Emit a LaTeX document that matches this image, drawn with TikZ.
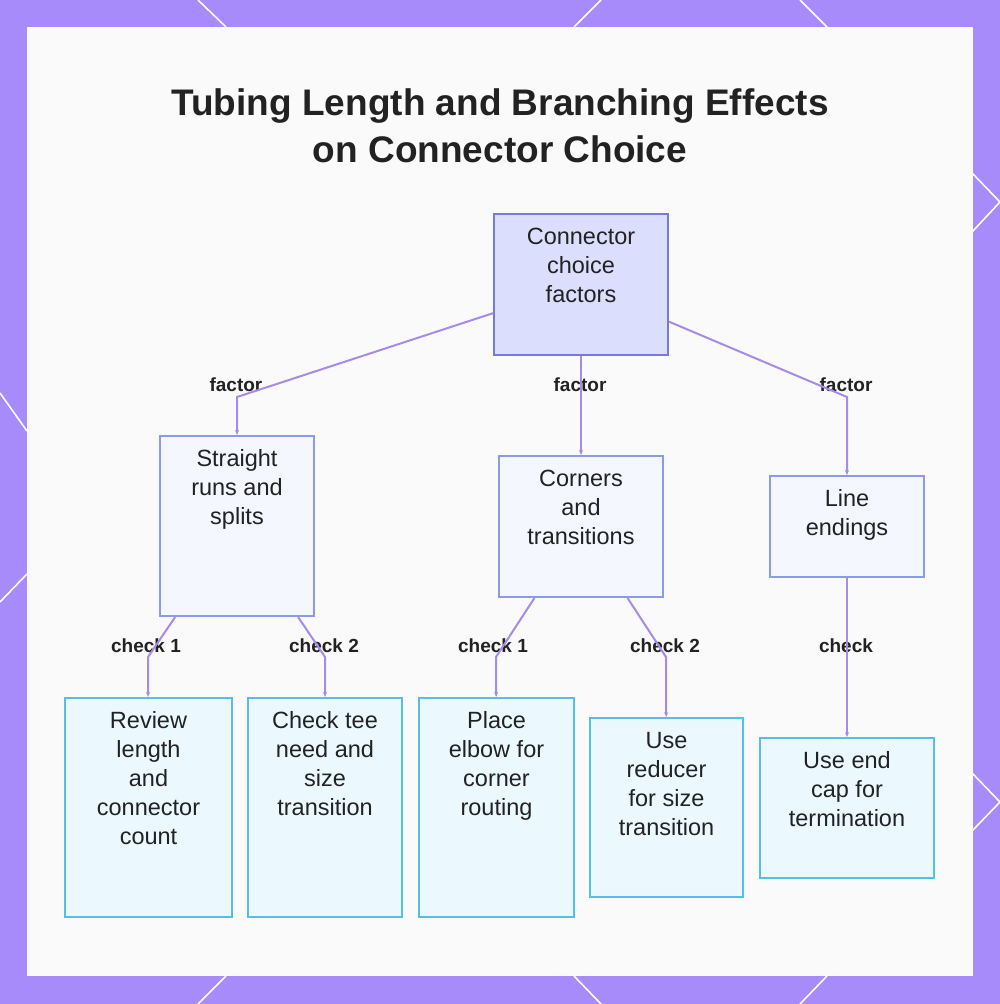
\documentclass[tikz,border=0pt]{standalone}
\usepackage{fontspec}
\setmainfont{Liberation Sans}
\usepackage{xcolor}
\usepackage{tikz}
\usetikzlibrary{positioning,arrows.meta}
\definecolor{framepurple}{RGB}{167,139,250}
\definecolor{panelgray}{RGB}{250,250,250}
\definecolor{rootfill}{RGB}{220,222,253}
\definecolor{rootline}{RGB}{118,124,214}
\definecolor{midfill}{RGB}{245,247,255}
\definecolor{midline}{RGB}{140,155,232}
\definecolor{leaffill}{RGB}{235,248,254}
\definecolor{leafline}{RGB}{86,192,226}
\definecolor{edgepurple}{RGB}{167,139,232}
\definecolor{inkdark}{RGB}{34,34,34}
\newcommand{\cardtext}[3]{\parbox[t][#1][t]{#2}{\centering\rule{0pt}{30pt}#3}}
\tikzset{
  card/.style={draw, line width=2pt, inner sep=0pt, text=inkdark, font=\fontsize{23.5}{29}\selectfont},
  rootcard/.style={card, draw=rootline, fill=rootfill},
  midcard/.style={card, draw=midline, fill=midfill},
  leafcard/.style={card, draw=leafline, fill=leaffill},
  lbl/.style={font=\fontsize{19}{22}\selectfont\bfseries, text=inkdark, inner sep=1pt},
  arr/.style={-{Stealth[length=5pt,width=4pt]}, line width=2pt, draw=edgepurple},
  deco/.style={draw=white, line width=1.6pt},
}

\begin{document}
\begin{tikzpicture}[x=1pt, y=-1pt]
    % frame and panel
    \fill[framepurple] (0,0) rectangle (1000,1004);
    \useasboundingbox (0,0) rectangle (1000,1004);
    \draw[deco] (198,0) -- (226,27);
    \draw[deco] (601,0) -- (574,27);
    \draw[deco] (800,0) -- (827,27);
    \draw[deco] (226,976) -- (198,1004);
    \draw[deco] (574,976) -- (601,1004);
    \draw[deco] (827,976) -- (800,1004);
    \draw[deco] (0,393) -- (27,431);
    \draw[deco] (27,574) -- (0,602);
    \draw[deco] (972,173) -- (1000,202) -- (972,232);
    \draw[deco] (972,773) -- (1000,802) -- (972,831);
    \fill[panelgray] (27,27) rectangle (973,976);

    \node[align=center, font=\fontsize{37}{47}\selectfont\bfseries, text=inkdark] (title) at (500,126)
      {Tubing Length and Branching Effects\\on Connector Choice};

    % boxes
    \node[rootcard] (root) at (581,284.5) {\cardtext{141pt}{174pt}{Connector\\choice\\factors}};
    \node[midcard] (straight) at (237,526) {\cardtext{180pt}{154pt}{Straight\\runs and\\splits}};
    \node[midcard] (corners) at (581,526.5) {\cardtext{141pt}{164pt}{Corners\\and\\transitions}};
    \node[midcard] (ends) at (847,526.5) {\cardtext{101pt}{154pt}{Line\\endings}};
    \node[leafcard] (review) at (148.5,807.5) {\cardtext{219pt}{167pt}{Review\\length\\and\\connector\\count}};
    \node[leafcard] (tee) at (325,807.5) {\cardtext{219pt}{154pt}{Check tee\\need and\\size\\transition}};
    \node[leafcard] (elbow) at (496.5,807.5) {\cardtext{219pt}{155pt}{Place\\elbow for\\corner\\routing}};
    \node[leafcard] (reducer) at (666.5,807.5) {\cardtext{179pt}{153pt}{Use\\reducer\\for size\\transition}};
    \node[leafcard] (endcap) at (847,808) {\cardtext{140pt}{174pt}{Use end\\cap for\\termination}};

    % labels
    \node[lbl] (f1) at (236,385) {factor};
    \node[lbl] (f2) at (580,385) {factor};
    \node[lbl] (f3) at (846,385) {factor};
    \node[lbl] (c1) at (146,646) {check 1};
    \node[lbl] (c2) at (324,646) {check 2};
    \node[lbl] (c3) at (493,646) {check 1};
    \node[lbl] (c4) at (665,646) {check 2};
    \node[lbl] (c5) at (846,646) {check};

    % bends
    \coordinate (kf1) at (237,397);
    \coordinate (kf3) at (847,397);
    \coordinate (kc1) at (148,657);
    \coordinate (kc2) at (325,657);
    \coordinate (kc3) at (496,657);
    \coordinate (kc4) at (666,657);

    % connectors
    \draw[arr] (root) -- (kf1) -- (straight);
    \draw[arr] (root) -- (corners);
    \draw[arr] (root) -- (kf3) -- (ends);
    \draw[arr] (straight) -- (kc1) -- (review);
    \draw[arr] (straight) -- (kc2) -- (tee);
    \draw[arr] (corners) -- (kc3) -- (elbow);
    \draw[arr] (corners) -- (kc4) -- (reducer);
    \draw[arr] (ends) -- (endcap);
\end{tikzpicture}
\end{document}
